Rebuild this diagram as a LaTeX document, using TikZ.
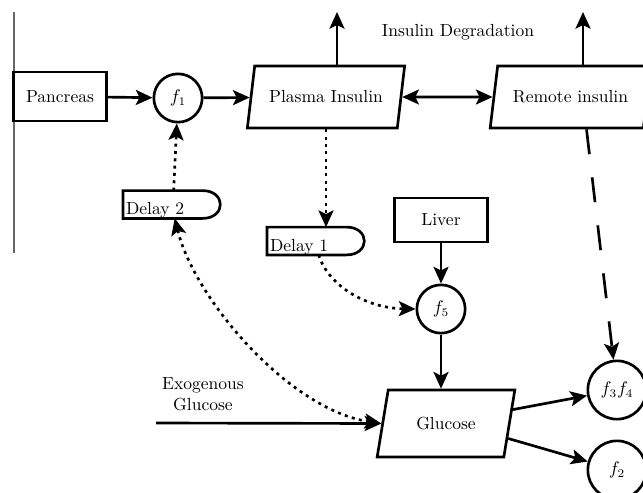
\documentclass[tikz,border=0pt]{standalone}
\usepackage{amsmath}
\usepackage{tikz}
\usetikzlibrary{arrows.meta,shapes.geometric,calc}

\begin{document}
\begin{tikzpicture}[x=0.6pt,y=-0.6pt,>={Stealth[length=10pt,width=9pt,inset=2.2pt]},
  line width=1.6pt,font=\fontsize{10.5}{12.5}\selectfont,
  boxnode/.style={draw,rectangle,minimum width=55.5pt,minimum height=28pt,inner sep=2pt},
  sumnode/.style={draw,circle,minimum size=29pt,inner sep=1pt},
  poolnode/.style={draw,trapezium,trapezium left angle=72,trapezium right angle=108,trapezium stretches=true,minimum height=37.2pt,inner sep=2pt},
  delaybox/.style={anchor=west,minimum width=46pt,text width=44pt,align=left,text height=12.5pt,text depth=0pt,inner xsep=1pt,inner ysep=1.3pt},
  dots/.style={dash pattern=on 1.8pt off 2.6pt},
  longdash/.style={dash pattern=on 15pt off 14pt}]
  \useasboundingbox (0,0) rectangle (643,492);
  \clip (0,0) rectangle (643,492);
  \draw[line width=0.9pt,black!60] (14,12) -- (14,253);
  \node[boxnode,minimum height=29.4pt] (pancreas) at (60,96.5) {Pancreas};
  \node[sumnode] (f1) at (178,98) {$f_1$};
  \node[poolnode,minimum width=94.8pt] (plasma) at (326,97) {Plasma Insulin};
  \node[poolnode,minimum width=96.6pt] (remote) at (570.5,97) {Remote insulin};
  \node (degr) at (458,32) {Insulin Degradation};
  \node[delaybox] (d2) at (123,204.5) {Delay 2};
  \node[delaybox] (d1) at (267,241) {Delay 1};
  \node[boxnode,minimum width=55.8pt,minimum height=26.4pt] (liver) at (441,220) {Liver};
  \node[sumnode] (f5) at (441,309) {$f_5$};
  \node[poolnode,minimum width=82.8pt,minimum height=40.2pt] (gluc) at (446,423.5) {Glucose};
  \node[sumnode,minimum size=35pt] (f34) at (617,390) {$f_3f_4$};
  \node[sumnode,minimum size=35pt] (f2) at (617,470) {$f_2$};
  \node[align=center] (exo) at (203,394) {Exogenous\\Glucose};
  \coordinate (exoin) at (156,423);
  \coordinate (top1) at (337,12);
  \coordinate (top2) at (583,12);
  \foreach \d in {d1,d2}
    \draw (\d.north west) -- (\d.north east) .. controls +(14.4pt,0) and +(14.4pt,0) .. (\d.south east) -- (\d.south west) -- cycle;
  \draw[->] (pancreas) -- (f1);
  \draw[->] (f1) -- (plasma);
  \draw[<->] (plasma) -- (remote);
  \foreach \n/\t in {plasma/top1,remote/top2}
    \draw[->] (\n.north -| \t) -- (\t);
  \draw[->,dots] (plasma.south) -- (plasma.south |- d1.north);
  \draw[->,dots] ($(d2.north)+(11,0)$) -- (f1);
  \draw[<->,dots] ($(d2.south)+(12,0)$) .. controls (195,300) and (290,410) .. (gluc.west);
  \draw[->,dots] ($(d1.south)+(12,0)$) .. controls (328,285) and (365,308) .. (f5.west);
  \draw[->] (liver) -- (f5);
  \draw[->] (f5) -- (f5 |- gluc.north);
  \draw[->] (exoin) -- (gluc.west);
  \draw[->] ($(gluc.east)!0.4!(gluc.top right corner)$) -- (f34);
  \draw[->] ($(gluc.east)!0.43!(gluc.bottom right corner)$) -- (f2);
  \draw[->,longdash] ($(remote.south)+(16,0)$) -- (f34);
\end{tikzpicture}
\end{document}
